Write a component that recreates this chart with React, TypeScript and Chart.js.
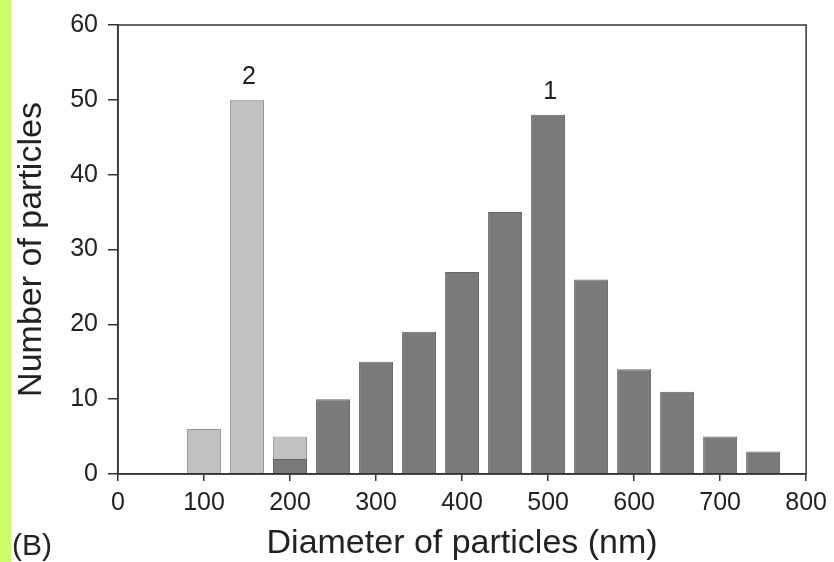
import React, { useEffect, useRef } from 'react';
import { Chart, registerables } from 'chart.js';

Chart.register(...registerables);

// Series 1 (dark bars)
const diameters1 = [200, 250, 300, 350, 400, 450, 500, 550, 600, 650, 700, 750];
const counts1 = [2, 10, 15, 19, 27, 35, 48, 26, 14, 11, 5, 3];
// Series 2 (light bars)
const diameters2 = [100, 150, 200];
const counts2 = [6, 50, 5];
// Peak labels
const peakLabels = ['2', '1'];
const peakX = [150, 500];
const peakY = [50, 48];
const panelLabel = '(B)';
const xTitle = 'Diameter of particles (nm)';
const yTitle = 'Number of particles';

const FONT = '"Liberation Sans", Arial, Helvetica, sans-serif';

const overlayPlugin = {
  id: 'overlay',
  afterDatasetsDraw(chart: any) {
    const { ctx, chartArea: a, scales } = chart;
    ctx.save();
    ctx.strokeStyle = '#333';
    ctx.lineWidth = 1.5;
    ctx.strokeRect(a.left, a.top, a.right - a.left, a.bottom - a.top);
    ctx.fillStyle = '#222';
    ctx.font = `25px ${FONT}`;
    ctx.textAlign = 'center';
    ctx.textBaseline = 'alphabetic';
    peakLabels.forEach((t, i) => {
      ctx.fillText(t, scales.x.getPixelForValue(peakX[i]) + 2, scales.y.getPixelForValue(peakY[i]) - 16);
    });
    ctx.font = `30px ${FONT}`;
    ctx.textAlign = 'left';
    ctx.fillText(panelLabel, 1, 555);
    ctx.restore();
  },
};

export default function App() {
  const ref = useRef<HTMLCanvasElement | null>(null);
  useEffect(() => {
    document.body.style.margin = '0';
    const canvas = ref.current;
    if (!canvas) return;
    const chart = new Chart(canvas, {
      type: 'bar',
      data: {
        datasets: [
          {
            label: '1',
            data: diameters1.map((d, i) => ({ x: d, y: counts1[i] })),
            backgroundColor: 'rgb(122,122,122)',
            borderColor: 'rgb(100,100,100)',
            borderWidth: 1,
            grouped: false,
            categoryPercentage: 1,
            barPercentage: 0.79,
          } as any,
          {
            label: '2',
            data: diameters2.map((d, i) => ({ x: d, y: counts2[i] })),
            backgroundColor: 'rgb(193,193,193)',
            borderColor: 'rgb(150,150,150)',
            borderWidth: 1,
            grouped: false,
            categoryPercentage: 1,
            barPercentage: 0.79,
          } as any,
        ],
      },
      options: {
        responsive: false,
        maintainAspectRatio: false,
        animation: false,
        layout: { padding: { top: 24, right: 24, left: 0, bottom: 0 } },
        plugins: { legend: { display: false }, tooltip: { enabled: false } },
        scales: {
          x: {
            type: 'linear',
            min: 0,
            max: 800,
            offset: false,
            afterFit: (s: any) => { s.height = 88; },
            ticks: { stepSize: 100, autoSkip: false, color: '#222', padding: 7, font: { size: 25, family: FONT }, maxRotation: 0 },
            grid: { offset: false, drawOnChartArea: false, drawTicks: true, tickLength: 7, color: '#333', lineWidth: 1.5 },
            border: { color: '#333', width: 1.5 },
            title: { display: true, text: xTitle, color: '#222', font: { size: 34, family: FONT, lineHeight: 1 }, padding: { top: 0, bottom: 1 } },
          },
          y: {
            min: 0,
            max: 60,
            afterFit: (s: any) => { s.width = 107; },
            ticks: { stepSize: 10, color: '#222', padding: 10, font: { size: 25, family: FONT } },
            grid: { drawOnChartArea: false, drawTicks: true, tickLength: 10, color: '#333', lineWidth: 1.5 },
            border: { color: '#333', width: 1.5 },
            title: { display: true, text: yTitle, color: '#222', font: { size: 34, family: FONT, lineHeight: 1.15 }, padding: { top: 1, bottom: 0 } },
          },
        },
      } as any,
      plugins: [overlayPlugin],
    });
    return () => chart.destroy();
  }, []);
  return (
    <div style={{ width: 834, height: 562, background: '#fff', display: 'flex' }}>
      <div style={{ width: 11, height: 562, background: 'rgb(204,255,102)' }} />
      <canvas ref={ref} width={823} height={562} style={{ display: 'block' }} />
    </div>
  );
}
